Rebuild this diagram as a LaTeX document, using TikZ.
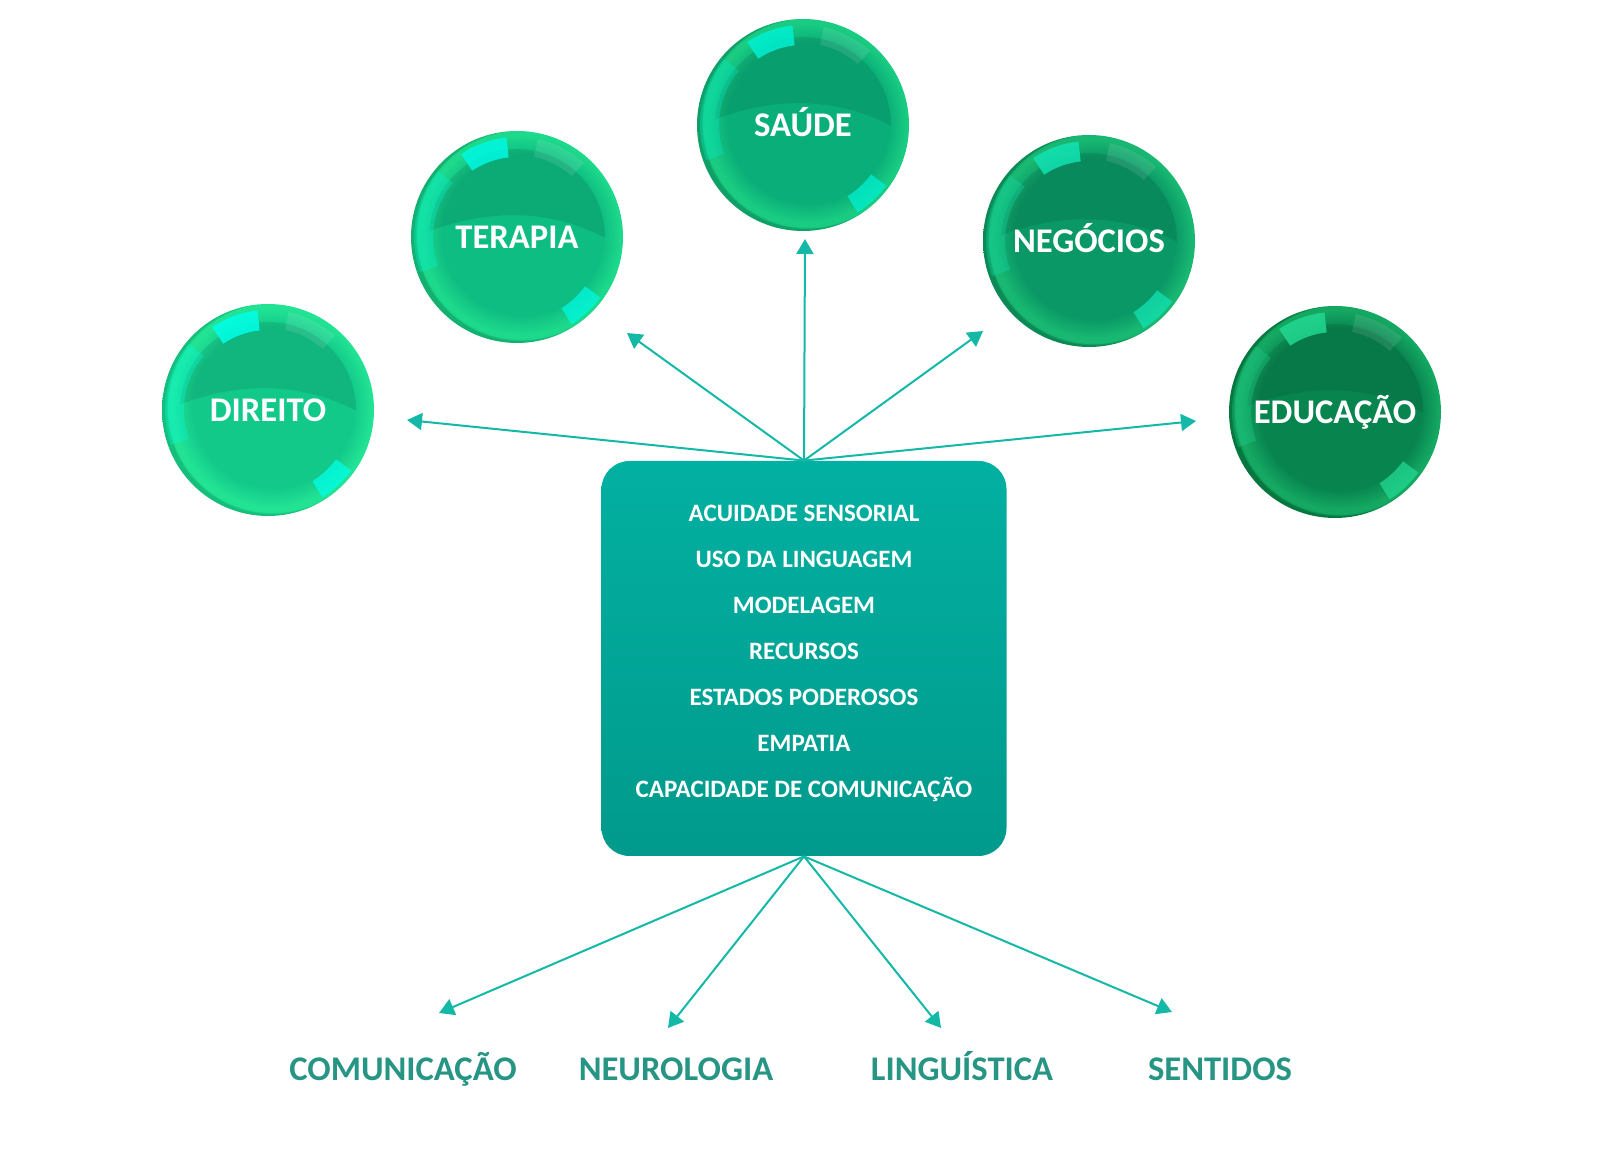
\documentclass[tikz,border=0pt]{standalone}
\usepackage{fontspec}
\setmainfont{Carlito}
\usetikzlibrary{arrows.meta}
\definecolor{sA}{HTML}{12C98A}
\definecolor{sB}{HTML}{1FE394}
\definecolor{sC}{HTML}{17C07D}
\definecolor{hl}{HTML}{00FFE8}
\definecolor{arrowc}{HTML}{13B8A6}
\definecolor{boxT}{HTML}{02B0A1}
\definecolor{boxM}{HTML}{00BCAA}
\definecolor{boxB}{HTML}{019A8C}
\definecolor{labc}{HTML}{279584}
\pgfdeclareradialshading[sA,sB,sC]{sph}{\pgfpoint{2bp}{1bp}}{color(0bp)=(sA); color(19bp)=(sA); color(23.5bp)=(sB); color(24.6bp)=(sB); color(25bp)=(sC); color(50bp)=(sC)}
% glossy details drawn over a sphere node (#1 = node name, #2 = highlight colour)
\newcommand\spherefx[2]{%
  \begin{scope}[shift={(#1.center)}]
    \definecolor{hl}{HTML}{#2}
    \begin{scope}
      \clip (0,0) circle (88);
      \fill[black, opacity=0.09] (-110,-4) .. controls (-40,30) and (40,34) .. (110,-14) -- (110,110) -- (-110,110) -- cycle;
    \end{scope}
    \fill[hl, opacity=0.85] (96:80) arc (96:124:80) -- (124:100) arc (124:96:100) -- cycle;
    \fill[hl, opacity=0.30] (140:84) arc (140:200:84) -- (200:103) arc (200:140:103) -- cycle;
    \fill[white, opacity=0.10] (48:82) arc (48:78:82) -- (78:100) arc (78:48:100) -- cycle;
    \fill[hl, opacity=0.75] (-36:84) arc (-36:-58:84) -- (-58:103) arc (-58:-36:103) -- cycle;
  \end{scope}}
\begin{document}
\begin{tikzpicture}[x=0.5pt,y=0.5pt,
  arr/.style={draw=arrowc, line width=1pt, -{Triangle[length=7.5pt,width=8.5pt]}},
  sphere/.style n args={3}{circle, minimum size=106pt, inner sep=0pt,
    /utils/exec={\definecolor{sA}{HTML}{#1}\definecolor{sB}{HTML}{#2}\definecolor{sC}{HTML}{#3}},
    shading=sph},
  sphlabel/.style={text=white, inner sep=0pt,
    font=\fontsize{17.3}{20}\selectfont\bfseries, text height=11.1pt, text depth=0pt},
  panel/.style={rectangle, rounded corners=14pt, minimum width=202.5pt, minimum height=197.5pt,
    top color=boxT, middle color=boxM, bottom color=boxB},
  listtext/.style={text=white, align=center, font=\fontsize{12.5}{23}\selectfont\bfseries},
  field/.style={text=labc, font=\fontsize{17.3}{20}\selectfont\bfseries, text height=11.2pt, text depth=0pt}
]
\useasboundingbox (0,0) rectangle (1600,1156);

% spheres
\node[sphere={12C98A}{22E394}{16BE7C}] (direito) at (268,746) {};
\spherefx{direito}{00FFE8}
\node[sphlabel] (direitoL) at (direito.center) {DIREITO};
\node[sphere={0EBD82}{1DD98B}{13B070}] (terapia) at (517,919) {};
\spherefx{terapia}{00F8E2}
\node[sphlabel] (terapiaL) at (terapia.center) {TERAPIA};
\node[sphere={0AAE78}{19CC82}{0FA068}] (saude) at (803,1031) {};
\spherefx{saude}{00F0D2}
\node[sphlabel] (saudeL) at (saude.center) {SAÚDE};
\node[sphere={0A9866}{18B872}{0B8A56}] (negocios) at (1089,915) {};
\spherefx{negocios}{12E2B2}
\node[sphlabel] (negociosL) at (negocios.center) {NEGÓCIOS};
\node[sphere={08844F}{14A862}{06783F}] (educacao) at (1335,744) {};
\spherefx{educacao}{22D892}
\node[sphlabel] (educacaoL) at (educacao.center) {EDUCAÇÃO};

% central panel
\node[panel] (box) at (804,497.5) {};
\node[listtext] (list) at (804,503) {ACUIDADE SENSORIAL\\USO DA LINGUAGEM\\MODELAGEM\\RECURSOS\\ESTADOS PODEROSOS\\EMPATIA\\CAPACIDADE DE COMUNICAÇÃO};

% bottom labels
\node[field] (com) at (403,87) {COMUNICAÇÃO};
\node[field] (neu) at (676,87) {NEUROLOGIA};
\node[field] (lin) at (962,87) {LINGUÍSTICA};
\node[field] (sen) at (1220,87) {SENTIDOS};

% arrow end points
\coordinate (eDir) at (407,736);
\coordinate (eTer) at (627,823);
\coordinate (eSau) at (805,917);
\coordinate (eNeg) at (983,825);
\coordinate (eEdu) at (1196,735);
\coordinate (eCom) at (439,143);
\coordinate (eNeu) at (668,128);
\coordinate (eLin) at (941,128);
\coordinate (eSen) at (1172,144);

\foreach \e in {eDir,eTer,eSau,eNeg,eEdu}{\draw[arr] (box.north) -- (\e);}
\foreach \e in {eCom,eNeu,eLin,eSen}{\draw[arr] (box.south) -- (\e);}
\end{tikzpicture}
\end{document}
